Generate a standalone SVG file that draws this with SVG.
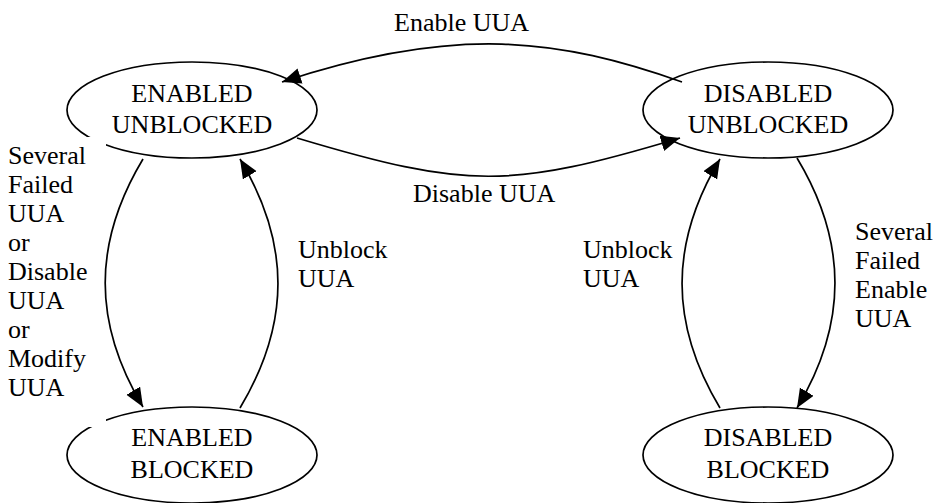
<svg xmlns="http://www.w3.org/2000/svg" width="935" height="503" viewBox="0 0 935 503">
  <style>
    .state { fill: #ffffff; stroke: #000000; stroke-width: 1.7; }
    text { font-family: 'Liberation Serif', 'Times New Roman', Times, 'DejaVu Serif', serif; font-size: 26px; fill: #000000; }
    .mid { text-anchor: middle; }
    .edge { fill: none; stroke: #000000; stroke-width: 1.7; marker-end: url(#arrow); }
  </style>
  <defs>
    <marker id="arrow" markerUnits="userSpaceOnUse" markerWidth="20" markerHeight="17" refX="19" refY="8" orient="auto">
      <path d="M0,0 L19,8 L0,16 z" fill="#000000"/>
    </marker>
  </defs>

  <rect width="935" height="503" fill="#ffffff"/>

  <g font-family="'Liberation Serif', 'Times New Roman', Times, 'DejaVu Serif', serif" font-size="26">
  <!-- states -->
  <g id="enabled-unblocked">
    <ellipse class="state" cx="192" cy="110" rx="125" ry="48"/>
    <text class="mid" x="192" y="102">ENABLED</text>
    <text class="mid" x="192" y="133">UNBLOCKED</text>
  </g>
  <g id="disabled-unblocked">
    <ellipse class="state" cx="768" cy="110" rx="125" ry="48"/>
    <text class="mid" x="768" y="102">DISABLED</text>
    <text class="mid" x="768" y="133">UNBLOCKED</text>
  </g>
  <g id="enabled-blocked">
    <ellipse class="state" cx="192" cy="455" rx="125" ry="48"/>
    <text class="mid" x="192" y="446">ENABLED</text>
    <text class="mid" x="192" y="478">BLOCKED</text>
  </g>
  <g id="disabled-blocked">
    <ellipse class="state" cx="768" cy="455" rx="125" ry="48"/>
    <text class="mid" x="768" y="446">DISABLED</text>
    <text class="mid" x="768" y="478">BLOCKED</text>
  </g>

  <!-- transitions and their labels -->
  <g id="connectors">
    <!-- Enable UUA -->
    <path class="edge" d="M682,82 C560,39 457,24 282,82"/>
    <text x="394" y="31">Enable UUA</text>

    <!-- Disable UUA -->
    <path class="edge" d="M297,138 C467,189 510,189 680,138"/>
    <text x="413" y="202">Disable UUA</text>

    <!-- enabled: unblocked -> blocked (label box masks the ellipse rims behind it) -->
    <rect x="0" y="137" width="106" height="290" fill="#ffffff"/>
    <path class="edge" d="M143,159 C92.6,243 92.6,323 143,407"/>
    <text x="8">
      <tspan x="8" y="164">Several</tspan>
      <tspan x="8" y="193">Failed</tspan>
      <tspan x="8" y="222">UUA</tspan>
      <tspan x="8" y="251">or</tspan>
      <tspan x="8" y="280">Disable</tspan>
      <tspan x="8" y="309">UUA</tspan>
      <tspan x="8" y="338">or</tspan>
      <tspan x="8" y="367">Modify</tspan>
      <tspan x="8" y="396">UUA</tspan>
    </text>

    <!-- enabled: blocked -> unblocked -->
    <path class="edge" d="M240,408 C290.6,323.6 290.6,243.4 240,159"/>
    <text>
      <tspan x="298" y="258">Unblock</tspan>
      <tspan x="298" y="287">UUA</tspan>
    </text>

    <!-- disabled: blocked -> unblocked -->
    <path class="edge" d="M720,408 C669.4,323.6 669.4,243.4 720,159"/>
    <text>
      <tspan x="583" y="258">Unblock</tspan>
      <tspan x="583" y="287">UUA</tspan>
    </text>

    <!-- disabled: unblocked -> blocked -->
    <path class="edge" d="M797,158 C847.6,242 847.6,324 797,408"/>
    <text>
      <tspan x="855" y="240">Several</tspan>
      <tspan x="855" y="269">Failed</tspan>
      <tspan x="855" y="298">Enable</tspan>
      <tspan x="855" y="327">UUA</tspan>
    </text>
  </g>
  </g>
</svg>
